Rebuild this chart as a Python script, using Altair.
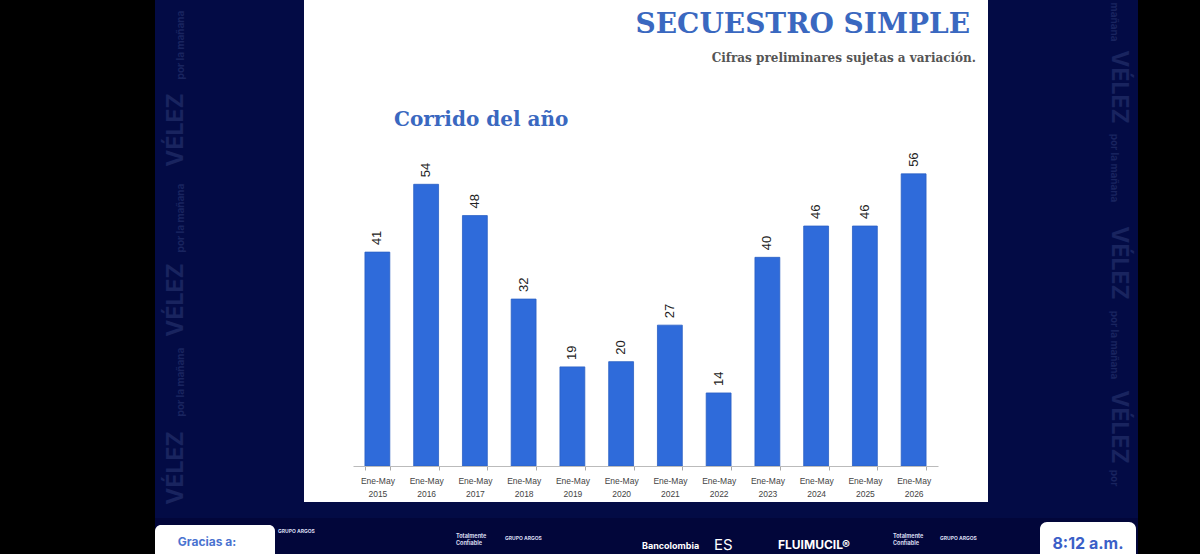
import altair as alt
import pandas as pd

# Kidnapping cases ("secuestro simple"), January-May of each year
years = ["2015", "2016", "2017", "2018", "2019", "2020",
         "2021", "2022", "2023", "2024", "2025", "2026"]
cases = [41, 54, 48, 32, 19, 20, 27, 14, 40, 46, 46, 56]
period = "Ene-May"

title_text = "SECUESTRO SIMPLE"
note_text = "Cifras preliminares sujetas a variación."
section_text = "Corrido del año"
watermark_big = "VÉLEZ"
watermark_small = "por la mañana"
thanks_text = "Gracias a:"
clock_text = "8:12 a.m."
sponsors = ["GRUPO ARGOS", "Totalmente\nConfiable", "GRUPO ARGOS", "Bancolombia",
            "ES", "FLUIMUCIL®", "Totalmente\nConfiable", "GRUPO ARGOS"]

df = pd.DataFrame({"year": years, "cases": cases})

# page geometry: plot area origin and size in pixels
OX, OY = 353, 153
W, H = 585, 313
PAGE_W, PAGE_H = 1200, 554

NAVY = "#030b45"
BAR = "#2f6bda"
BLUE_TEXT = "#3a68c0"

one = pd.DataFrame({"k": [0]})


def px(x):
    return x - OX


def py(y):
    return y - OY


def panel(x0, y0, x1, y1, color, radius=0):
    return alt.Chart(one).mark_rect(color=color, cornerRadius=radius).encode(
        x=alt.value(px(x0)), x2=alt.value(px(x1)),
        y=alt.value(py(y0)), y2=alt.value(py(y1)),
    )


def caption(text, x, y, size, color, font="DejaVu Sans", weight="bold",
            align="left", angle=0, baseline="alphabetic"):
    return alt.Chart(one).mark_text(
        text=text, fontSize=size, color=color, font=font, fontWeight=weight,
        align=align, angle=angle, baseline=baseline, lineBreak="\n",
        lineHeight=size + 1,
    ).encode(x=alt.value(px(x)), y=alt.value(py(y)))


# broadcast frame around the slide
frame = [
    panel(155, 0, 1138, PAGE_H, NAVY),
    panel(155, 518, 1138, PAGE_H, "#02063a"),
    panel(304, 0, 988, 502, "#ffffff"),
]

# faint side watermarks
WM = "#19245f"
marks_wm = []
for yc in [468, 300, 130]:
    marks_wm.append(caption(watermark_big, 176, yc, 23, WM, font="Inter",
                            align="center", angle=270, baseline="middle"))
for yc in [382, 218, 45]:
    marks_wm.append(caption(watermark_small, 181, yc, 10, WM, font="Inter",
                            align="center", angle=270, baseline="middle"))
for yc in [87, 263, 427]:
    marks_wm.append(caption(watermark_big, 1119, yc, 23, WM, font="Inter",
                            align="center", angle=90, baseline="middle"))
for yc in [168, 345]:
    marks_wm.append(caption(watermark_small, 1114, yc, 10, WM, font="Inter",
                            align="center", angle=90, baseline="middle"))
marks_wm.append(caption("mañana", 1114, 22, 10, WM, font="Inter",
                        align="center", angle=90, baseline="middle"))
marks_wm.append(caption("por", 1114, 478, 10, WM, font="Inter",
                        align="center", angle=90, baseline="middle"))

# bottom strip: thanks box, sponsors and clock
LOGO = "#d8dcf0"
strip = [
    panel(155, 525, 275, PAGE_H + 6, "#ffffff", radius=6),
    caption(thanks_text, 207, 546, 12, "#4a73d0", font="Inter", align="center"),
    panel(1040, 522, 1136, PAGE_H + 6, "#ffffff", radius=7),
    caption(clock_text, 1088, 549, 16, "#3b5fc8", font="Inter", align="center"),
    caption(sponsors[0], 278, 533, 5, LOGO, font="Inter"),
    caption(sponsors[1], 456, 538, 5.5, LOGO, font="Inter"),
    caption(sponsors[2], 505, 540, 5, LOGO, font="Inter"),
    caption(sponsors[3], 642, 549, 9, "#ffffff", font="Inter"),
    caption(sponsors[4], 714, 550, 15, "#ffffff", font="Inter", weight="normal"),
    caption(sponsors[5], 778, 549, 12, "#ffffff", font="Inter"),
    caption(sponsors[6], 893, 538, 5.5, LOGO, font="Inter"),
    caption(sponsors[7], 940, 540, 5, LOGO, font="Inter"),
]

# slide headings
headings = [
    caption(title_text, 970, 33, 28, BLUE_TEXT, font="DejaVu Serif", align="right"),
    caption(note_text, 976, 62, 12, "#555555", font="DejaVu Serif", align="right"),
    caption(section_text, 394, 126, 20, BLUE_TEXT, font="DejaVu Serif"),
]

x_enc = alt.X(
    "year:N",
    sort=years,
    scale=alt.Scale(paddingInner=0.49, paddingOuter=0.245),
    axis=alt.Axis(
        title=None,
        labelAngle=0,
        # the extra boundary tick has no category, so it gets no label
        labelExpr=f"datum.value ? ['{period}', datum.value] : ''",
        labelFont="Liberation Sans",
        labelFontSize=8.5,
        labelColor="#444444",
        labelPadding=6,
        labelLineHeight=13,
        tickBand="extent",
        tickSize=4,
        tickColor="#aaaaaa",
        domainColor="#bbbbbb",
        domainWidth=1,
        zindex=1,
    ),
)
y_enc = alt.Y("cases:Q", scale=alt.Scale(domain=[0, 60]), axis=None)

bars = alt.Chart(df).mark_bar(color=BAR, stroke="#2a5fc4", strokeWidth=0.8).encode(
    x=x_enc, y=y_enc
)
values = alt.Chart(df).mark_text(
    angle=270, align="left", baseline="middle", dx=7,
    fontSize=13, color="#222222", font="Liberation Sans",
).encode(x=alt.X("year:N", sort=years), y=y_enc, text="cases:Q")

chart = alt.layer(
    *frame, *marks_wm, *strip, *headings, bars, values
).properties(
    width=W,
    height=H,
    background="#000000",
    autosize=alt.AutoSizeParams(type="none"),
    padding={"left": OX, "top": OY, "right": PAGE_W - OX - W, "bottom": PAGE_H - OY - H},
).configure_view(stroke=None)

chart.save("out.html", embed_options={"renderer": "svg", "actions": False})
